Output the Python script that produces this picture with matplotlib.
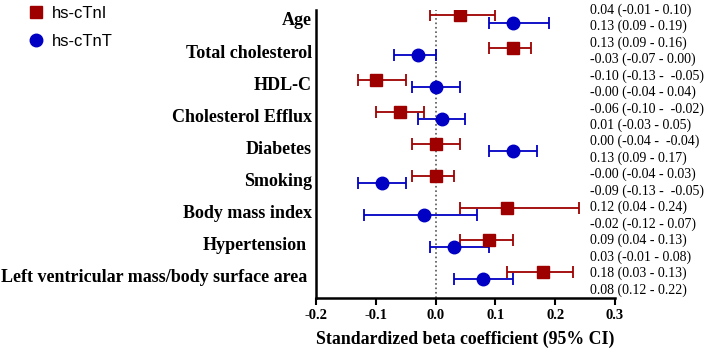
import numpy as np
import matplotlib
matplotlib.use('Agg')
import matplotlib.pyplot as plt
import matplotlib.transforms as mtransforms

# 变量名称
labels = ['Age', 'Total cholesterol', 'HDL-C', 'Cholesterol Efflux', 'Diabetes',
          'Smoking', 'Body mass index', 'Hypertension',
          'Left ventricular mass/body surface area']

# hs-cTnI 估计值及95%置信区间
tni_est = [0.04, 0.13, -0.10, -0.06, 0.00, 0.00, 0.12, 0.09, 0.18]
tni_lo = [-0.01, 0.09, -0.13, -0.10, -0.04, -0.04, 0.04, 0.04, 0.12]
tni_hi = [0.10, 0.16, -0.05, -0.02, 0.04, 0.03, 0.24, 0.13, 0.23]

# hs-cTnT 估计值及95%置信区间
tnt_est = [0.13, -0.03, 0.00, 0.01, 0.13, -0.09, -0.02, 0.03, 0.08]
tnt_lo = [0.09, -0.07, -0.04, -0.03, 0.09, -0.13, -0.12, -0.01, 0.03]
tnt_hi = [0.19, 0.00, 0.04, 0.05, 0.17, -0.05, 0.07, 0.09, 0.13]

# 右侧文字
ci_text = ['0.04 (-0.01 - 0.10)', '0.13 (0.09 - 0.19)',
           '0.13 (0.09 - 0.16)', '-0.03 (-0.07 - 0.00)',
           '-0.10 (-0.13 -  -0.05)', '-0.00 (-0.04 - 0.04)',
           '-0.06 (-0.10 -  -0.02)', '0.01 (-0.03 - 0.05)',
           '0.00 (-0.04 -  -0.04)', '0.13 (0.09 - 0.17)',
           '-0.00 (-0.04 - 0.03)', '-0.09 (-0.13 -  -0.05)',
           '0.12 (0.04 - 0.24)', '-0.02 (-0.12 - 0.07)',
           '0.09 (0.04 - 0.13)', '0.03 (-0.01 - 0.08)',
           '0.18 (0.03 - 0.13)', '0.08 (0.12 - 0.22)']

xticks = [-0.2, -0.1, 0.0, 0.1, 0.2, 0.3]

RED = '#9e0000'
BLUE = '#0000c4'
serif = 'Liberation Serif'

fig = plt.figure(figsize=(7.09, 3.53), dpi=100)
ax = fig.add_axes([0.4457, 0.1567, 0.4217, 0.815])

y = np.arange(len(labels))
off = 0.11

tni_est = np.array(tni_est); tnt_est = np.array(tnt_est)
ax.errorbar(tni_est, y - off,
            xerr=[tni_est - np.array(tni_lo), np.array(tni_hi) - tni_est],
            fmt='none', ecolor=RED, elinewidth=1.3, capsize=4.5, capthick=1.3, zorder=3)
ax.errorbar(tnt_est, y + off,
            xerr=[tnt_est - np.array(tnt_lo), np.array(tnt_hi) - tnt_est],
            fmt='none', ecolor=BLUE, elinewidth=1.3, capsize=4.5, capthick=1.3, zorder=3)
h1, = ax.plot(tni_est, y - off, 's', color=RED, ms=9, ls='none', label='hs-cTnI', zorder=4)
h2, = ax.plot(tnt_est, y + off, 'o', color=BLUE, ms=9, ls='none', label='hs-cTnT', zorder=4)

ax.axvline(0, color='#555555', ls=':', lw=1.2, zorder=1)

ax.set_xlim(-0.2, 0.3)
ax.set_ylim(8.68, -0.28)
ax.set_xticks(xticks)
ax.set_xticklabels(['%.1f' % v for v in xticks], fontfamily=serif, fontweight='bold', fontsize=10.5)
ax.set_yticks(y)
ax.set_yticklabels(labels, fontfamily=serif, fontweight='bold', fontsize=13)
ax.tick_params(axis='y', length=0, pad=3)
ax.tick_params(axis='x', length=5, width=1.5, pad=3)
# 最后两个标签稍微左移
for t in ax.get_yticklabels()[-2:]:
    t.set_transform(t.get_transform() + mtransforms.ScaledTranslation(-5 / 100, 0, fig.dpi_scale_trans))

for s in ['top', 'right']:
    ax.spines[s].set_visible(False)
for s in ['left', 'bottom']:
    ax.spines[s].set_linewidth(1.8)

ax.set_xlabel('Standardized beta coefficient (95% CI)', fontfamily=serif,
              fontweight='bold', fontsize=12.8)
ax.xaxis.set_label_coords(0.5, -0.115)

# 右侧置信区间文字
trans = mtransforms.blended_transform_factory(ax.transData, ax.transAxes)
ty = np.linspace(1.0, 0.027, len(ci_text))
for txt, yy in zip(ci_text, ty):
    ax.text(0.258, yy, txt, transform=trans, fontfamily=serif, fontsize=10,
            va='center', ha='left', clip_on=False)

fig.legend(handles=[h1, h2], loc='upper left', bbox_to_anchor=(0.015, 1.025),
           frameon=False, prop={'family': 'Liberation Sans', 'size': 12},
           handlelength=1.2, handletextpad=0.4, labelspacing=0.75, markerscale=1.0)

fig.savefig('out.png', dpi=100)
